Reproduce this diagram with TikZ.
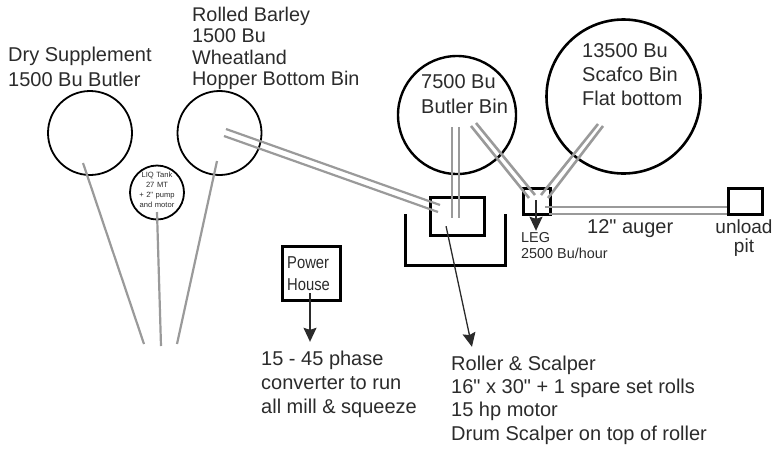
\documentclass[tikz,border=0pt]{standalone}
\usepackage{fontspec}
\setmainfont{Liberation Sans}[Ligatures=TeXOff]
\usetikzlibrary{arrows.meta}
\definecolor{ink}{HTML}{2B2B2B}
\definecolor{pipe}{HTML}{9A9A9A}
\tikzset{
  x=1pt,y=-1pt,
  bin/.style={circle,draw=black,line width=#1,inner sep=0pt,fill=none},
  bin/.default=1.8pt,
  boxy/.style={rectangle,draw=black,line width=3pt,inner sep=0pt,anchor=north west},
  pipeline/.style={draw=pipe,line width=2.6pt},
  thinpipe/.style={draw=pipe,line width=2.2pt},
  pointer/.style={draw=ink,fill=ink,line width=1.3pt,-{Stealth[length=14pt,width=13pt,inset=2pt]}},
  lab/.style={text=ink,font=\fontsize{20}{25}\selectfont,align=left,anchor=north west,inner sep=0pt},
  mid/.style={text=ink,font=\fontsize{19}{19}\selectfont,align=center,inner sep=0pt},
  tip/.style={inner sep=0pt,minimum size=0pt},
}
\begin{document}
\begin{tikzpicture}
\useasboundingbox (0,0) rectangle (775,448);
% free ends
\coordinate (fa) at (144,344);\coordinate (fb) at (161,346);\coordinate (fc) at (177,344);
\coordinate (a0) at (83,163);\coordinate (b0) at (217,161);\coordinate (c0) at (157,212);
% bins
\node[bin,minimum size=84pt] (dry) at (90,133) {};
\node[bin,minimum size=84pt] (barley) at (219.5,133) {};
\node[bin=1.8pt,minimum size=54pt] (liq) at (157,192.5) {};
\node[bin=2.4pt,minimum size=118pt] (butler) at (457,115) {};
\node[bin=2.6pt,minimum size=154pt] (scafco) at (623.5,96.5) {};
% boxes
\node[boxy,minimum width=54pt,minimum height=38pt] (roller) at (429,196) {};
\node[boxy,minimum width=27pt,minimum height=26pt] (leg) at (522,187) {};
\node[boxy,minimum width=34pt,minimum height=26pt] (pit) at (727,187) {};
\node[boxy,minimum width=58pt,minimum height=54pt] (power) at (281,245) {};
\draw[black,line width=3pt] (405,214) -- (405,265) -- (505,265) -- (505,214);
% pipes
\draw[thinpipe] (a0) -- (fa);
\draw[thinpipe] (c0) -- (fb);
\draw[thinpipe] (b0) -- (fc);
\draw[thinpipe] (226,129) -- (440,205);
\draw[thinpipe] (224,136) -- (438,212);
\draw[pipeline] (452,127) -- (452,218);
\draw[pipeline] (459,127) -- (459,218);
\draw[pipeline] (471,126) -- (529,198);
\draw[pipeline] (476,123) -- (535,195);
\draw[pipeline] (598,124) -- (541,195);
\draw[pipeline] (603,126) -- (548,198);
\draw[pipeline] (545,207) -- (727,207);
\draw[pipeline] (549,214) -- (727,214);
% arrows
\node[tip] (legtop) at (536,200) {};
\node[tip] (legend) at (536,231) {};
\draw[pointer] (legtop) -- (legend);
\node[tip] (rolltop) at (446,226) {};
\node[tip] (rollend) at (472,347) {};
\draw[pointer] (rolltop) -- (rollend);
\node[tip] (powtop) at (310,293) {};
\node[tip] (powend) at (310,342) {};
\draw[pointer] (powtop) -- (powend);
% labels
\node[lab] (t1) at (8,47) {Dry Supplement\\1500 Bu Butler};
\node[lab,font=\fontsize{19.8}{21.6}\selectfont] (t2) at (192,6.5) {Rolled Barley\\1500 Bu\\Wheatland\\Hopper Bottom Bin};
\node[mid,text width=12pt,font=\fontsize{7.6}{10}\selectfont] (t3) at (157,190) {\makebox[0pt]{LIQ Tank}\\\makebox[0pt]{27 MT}\\\makebox[0pt]{+ 2" pump}\\\makebox[0pt]{and motor}};
\node[lab] (t4) at (421,74) {7500 Bu\\Butler Bin};
\node[lab,font=\fontsize{20}{24.3}\selectfont] (t5) at (582,43) {13500 Bu\\Scafco Bin\\Flat bottom};
\node[lab,font=\fontsize{17.2}{22}\selectfont,xscale=.86,transform shape] (t6) at (287,256) {Power\\House};
\node[lab] (t7) at (587,219.5) {12" auger};
\node[mid] (t8) at (744,238) {unload\\pit};
\node[lab,font=\fontsize{14.4}{16}\selectfont] (t9) at (521,232) {LEG\\2500 Bu/hour};
\node[lab,font=\fontsize{20}{24}\selectfont] (t10) at (261,351) {15 - 45 phase\\converter to run\\all mill \& squeeze};
\node[lab,font=\fontsize{20}{23.3}\selectfont] (t11) at (451,355.5) {Roller \& Scalper\\16" x 30" + 1 spare set rolls\\15 hp motor\\Drum Scalper on top of roller};
\end{tikzpicture}
\end{document}
